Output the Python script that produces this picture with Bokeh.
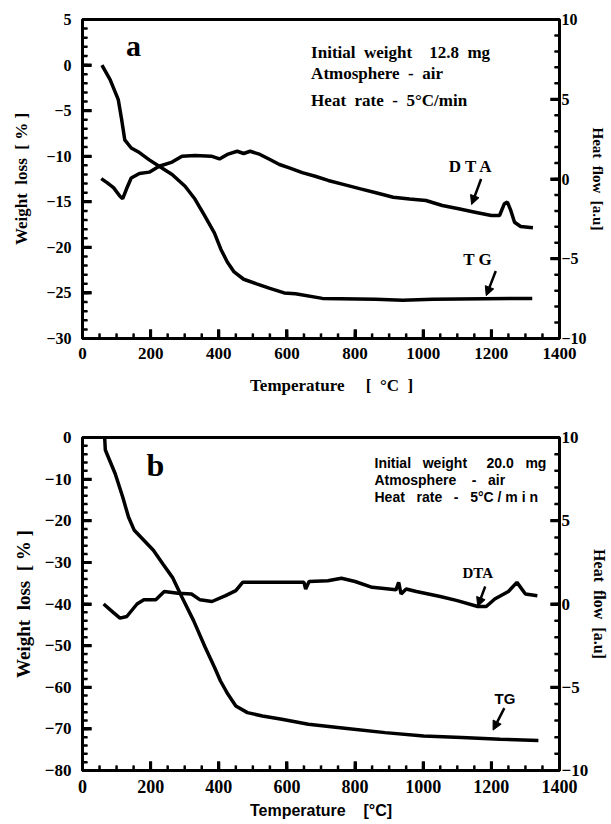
import numpy as np
from bokeh.plotting import figure
from bokeh.layouts import column
from bokeh.models import Range1d, LinearAxis, FixedTicker, Arrow, NormalHead
from bokeh.core.properties import value
from bokeh.embed import file_html
from bokeh.resources import INLINE

# ---------------- data: panel a ----------------
tg_a_t = [57, 81, 105, 115, 124, 143, 167, 196, 225, 263, 301, 330, 358, 387, 406, 425,
          445, 473, 511, 550, 592, 625, 704, 860, 940, 1028, 1320]
tg_a_v = [0, -1.6, -3.8, -6, -8.2, -9.1, -9.6, -10.4, -11.1, -12, -13.3, -14.7, -16.5,
          -18.4, -20.2, -21.6, -22.7, -23.5, -24, -24.5, -25.0, -25.1, -25.6, -25.7,
          -25.8, -25.7, -25.6]
dta_a_t = [55, 72, 91, 110, 118, 129, 143, 167, 196, 225, 263, 292, 330, 378, 402, 425,
           454, 473, 492, 521, 550, 578, 607, 645, 683, 721, 768, 816, 864, 912, 960,
           1008, 1056, 1104, 1152, 1200, 1224, 1238, 1247, 1257, 1268, 1286, 1322]
dta_a_v = [0.02, -0.23, -0.54, -1.08, -1.23, -0.63, 0.06, 0.34, 0.43, 0.8, 1.06, 1.43,
           1.47, 1.43, 1.26, 1.54, 1.74, 1.6, 1.74, 1.54, 1.22, 0.91, 0.7, 0.4, 0.17,
           -0.09, -0.35, -0.62, -0.88, -1.14, -1.25, -1.35, -1.66, -1.87, -2.08, -2.29,
           -2.29, -1.56, -1.45, -1.97, -2.71, -2.98, -3.06]

# ---------------- data: panel b ----------------
tg_b_t = [65, 67, 96, 118, 135, 152, 180, 208, 236, 264, 292, 326, 360, 388, 405, 427,
          450, 484, 528, 585, 663, 776, 888, 1001, 1113, 1226, 1338]
tg_b_v = [0, -3, -8.7, -14.3, -19.1, -22.3, -24.7, -27.1, -30.4, -33.6, -38.4, -44,
          -50.4, -55.3, -58.5, -61.7, -64.5, -66.1, -66.9, -67.7, -68.9, -69.9, -70.9,
          -71.7, -72.1, -72.5, -72.8]
dta_b_t = [62, 90, 110, 130, 160, 180, 215, 240, 280, 320, 345, 380, 420, 450, 470, 520,
           600, 650, 655, 665, 720, 760, 800, 850, 920, 928, 935, 950, 980, 1050, 1100,
           1160, 1185, 1210, 1250, 1275, 1300, 1335]
dta_b_v = [0, -0.5, -0.85, -0.75, 0.0, 0.25, 0.25, 0.75, 0.65, 0.6, 0.25, 0.15, 0.5, 0.8,
           1.3, 1.3, 1.3, 1.3, 0.9, 1.35, 1.4, 1.55, 1.35, 1.0, 0.85, 1.3, 0.6, 0.9, 0.75,
           0.45, 0.2, -0.15, -0.15, 0.3, 0.75, 1.3, 0.6, 0.5]

x_ticks = [0, 200, 400, 600, 800, 1000, 1200, 1400]
x_minor = list(range(0, 1401, 50))
a_left_ticks = [5, 0, -5, -10, -15, -20, -25, -30]
a_left_minor = list(range(-30, 6))
b_left_ticks = [0, -10, -20, -30, -40, -50, -60, -70, -80]
b_left_minor = list(range(-80, 1, 2))
right_ticks = [10, 5, 0, -5, -10]
right_minor = list(range(-10, 11))

SERIF = "Liberation Serif"
SANS = "Liberation Sans"
LW = 3.5
FRAME_W = 475  # approx frame width in px, only to turn tick lengths (px) into data units


def style_axis(ax, ticks, minors, fs="16px", standoff=10):
    ax.ticker = FixedTicker(ticks=ticks, minor_ticks=minors)
    ax.major_tick_in = 9
    ax.major_tick_out = 0
    ax.minor_tick_in = 5
    ax.minor_tick_out = 0
    ax.major_tick_line_width = 3
    ax.major_tick_line_color = "black"
    ax.minor_tick_line_color = "black"
    ax.major_label_text_font = SERIF
    ax.major_label_text_font_style = "bold"
    ax.major_label_text_font_size = fs
    ax.major_label_text_color = "black"
    ax.major_label_standoff = standoff
    ax.axis_label_text_font = SERIF
    ax.axis_label_text_font_style = "bold"
    ax.axis_label_text_color = "black"


def tick_marks(p, ylo, yhi, frame_h, left_ticks, left_minor):
    kx = 1400.0 / FRAME_W
    ky = (yhi - ylo) / frame_h
    big, small = 9, 5
    lt, lm = np.array(left_ticks, float), np.array(left_minor, float)
    p.segment(x0=0, y0=lt, x1=big * kx, y1=lt, line_width=3, line_color="black")
    p.segment(x0=0, y0=lm, x1=small * kx, y1=lm, line_width=2.5, line_color="black")
    xt, xm = np.array(x_ticks, float), np.array(x_minor, float)
    p.segment(x0=xt, y0=ylo, x1=xt, y1=ylo + big * ky, line_width=3, line_color="black")
    p.segment(x0=xm, y0=ylo, x1=xm, y1=ylo + small * ky, line_width=2.5, line_color="black")
    kr = 20.0 / frame_h
    rt, rm = np.array(right_ticks, float), np.array(right_minor, float)
    p.segment(x0=1400, y0=rt, x1=1400 - big * kx, y1=rt, line_width=3, line_color="black",
              y_range_name="hf")
    p.segment(x0=1400, y0=rm, x1=1400 - small * kx, y1=rm, line_width=2.5,
              line_color="black", y_range_name="hf")


def make_panel(height, top, bottom, right, ylo, yhi, left_ticks, left_minor, fs_x, fs_y):
    p = figure(width=611, height=height, output_backend="svg", toolbar_location=None,
               x_range=Range1d(0, 1400), y_range=Range1d(ylo, yhi),
               min_border_left=82, min_border_right=right,
               min_border_top=top, min_border_bottom=bottom)
    p.grid.visible = False
    p.outline_line_color = "black"
    p.outline_line_width = 3
    p.extra_y_ranges = {"hf": Range1d(-10, 10)}
    style_axis(p.xaxis[0], x_ticks, x_minor, fs=fs_x, standoff=9)
    style_axis(p.yaxis[0], left_ticks, left_minor, fs=fs_y, standoff=11)
    ra = LinearAxis(y_range_name="hf")
    style_axis(ra, right_ticks, right_minor, fs=fs_y, standoff=2)
    p.add_layout(ra, "right")
    return p, ra


def arrow(p, x0, y0, x1, y1, yr="default"):
    p.add_layout(Arrow(x_start=x0, y_start=y0, x_end=x1, y_end=y1, line_width=2.5,
                       y_range_name=yr,
                       end=NormalHead(size=9, fill_color="black", line_color="black")))


def note(p, x, y, text, size, font=SERIF, yr="default"):
    p.text(x=[x], y=[y], text=[text], text_font=value(font), text_font_style="bold",
           text_font_size=size, text_align="center", text_baseline="middle",
           y_range_name=yr)


# ---------------- panel a ----------------
pa, ra_a = make_panel(408, 19, 70, 41, -30, 5, a_left_ticks, a_left_minor, "17px", "16px")
tick_marks(pa, -30, 5, 319, a_left_ticks, a_left_minor)
pa.line(tg_a_t, tg_a_v, line_width=LW, color="black")
pa.line(dta_a_t, dta_a_v, line_width=LW, color="black", y_range_name="hf")
note(pa, 150, 2.1, "a", "30px")
pa.text(x=[671, 671, 671], y=[1.38, -0.93, -3.9],
        text=["Initial\u00a0 weight\u00a0\u00a0\u00a0 12.8\u00a0 mg",
              "Atmosphere\u00a0 -\u00a0 air",
              "Heat\u00a0 rate\u00a0 -\u00a0 5\u00b0C/min"],
        text_font=value(SERIF), text_font_style="bold", text_font_size="17px",
        text_align="left", text_baseline="middle")
note(pa, 1140, 0.8, "D T A", "17px", yr="hf")
arrow(pa, 1170, 0.0, 1142, -1.6, yr="hf")
note(pa, 1160, -21.3, "T G", "17px")
arrow(pa, 1213, -22.6, 1185, -25.3)
pa.xaxis[0].axis_label = "\u00a0\u00a0\u00a0\u00a0\u00a0Temperature\u00a0\u00a0\u00a0\u00a0 [\u00a0 \u00b0C\u00a0 ]"
pa.xaxis[0].axis_label_text_font_size = "17px"
pa.xaxis[0].axis_label_standoff = 14
pa.yaxis[0].axis_label = "Weight\u00a0 loss\u00a0 [ % ]"
pa.yaxis[0].axis_label_text_font_size = "17px"
pa.yaxis[0].axis_label_standoff = 12
ra_a.axis_label = "Heat\u00a0 flow\u00a0 [a.u]"
ra_a.axis_label_text_font_size = "15px"
ra_a.axis_label_standoff = 0

# ---------------- panel b ----------------
pb, ra_b = make_panel(414, 29, 52, 39, -80, 0, b_left_ticks, b_left_minor, "18px", "17px")
tick_marks(pb, -80, 0, 333, b_left_ticks, b_left_minor)
pb.line(tg_b_t, tg_b_v, line_width=LW, color="black")
pb.line(dta_b_t, dta_b_v, line_width=LW, color="black", y_range_name="hf")
note(pb, 214, -6.7, "b", "32px")
pb.text(x=[857, 857, 857], y=[-6.2, -10.3, -14.2],
        text=["Initial\u00a0\u00a0 weight\u00a0\u00a0\u00a0\u00a0 20.0\u00a0\u00a0 mg",
              "Atmosphere\u00a0\u00a0\u00a0 -\u00a0\u00a0 air",
              "Heat\u00a0\u00a0 rate\u00a0\u00a0 -\u00a0\u00a0 5\u00b0C / m i n"],
        text_font=value(SANS), text_font_style="bold", text_font_size="14px",
        text_align="left", text_baseline="middle")
note(pb, 1160, 1.85, "DTA", "15px", yr="hf")
arrow(pb, 1182, 1.05, 1160, -0.15, yr="hf")
note(pb, 1240, -62.7, "TG", "15px", font=SANS)
arrow(pb, 1238, -65.0, 1205, -70.3)
pb.xaxis[0].axis_label = "Temperature\u00a0\u00a0\u00a0 [\u00b0C]"
pb.xaxis[0].axis_label_text_font = SANS
pb.xaxis[0].axis_label_text_font_size = "16px"
pb.xaxis[0].axis_label_standoff = 6
pb.yaxis[0].axis_label = "Weight\u00a0 loss\u00a0 [ % ]"
pb.yaxis[0].axis_label_text_font_size = "19px"
pb.yaxis[0].axis_label_standoff = 8
ra_b.axis_label = "Heat\u00a0 flow\u00a0 [a.u]"
ra_b.axis_label_text_font_size = "16px"
ra_b.axis_label_standoff = 0

layout = column(pa, pb, spacing=0)
open("out.html", "w").write(file_html(layout, INLINE))
